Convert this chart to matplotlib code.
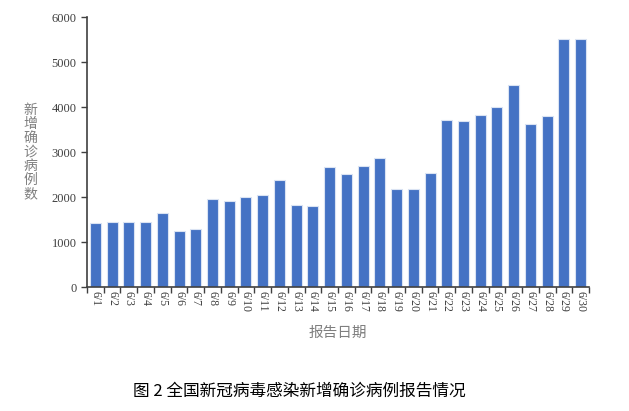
import matplotlib.pyplot as plt
import numpy as np

plt.rcParams['font.family'] = ['Liberation Serif', 'Noto Sans CJK SC', 'DejaVu Sans']

dates = ['6/%d' % d for d in range(1, 31)]
cases = [1420, 1440, 1450, 1440, 1650, 1240, 1280, 1950, 1920, 1990,
         2040, 2370, 1830, 1810, 2670, 2510, 2680, 2870, 2170, 2180,
         2530, 3710, 3700, 3820, 3990, 4490, 3620, 3800, 5510, 5510]
yticks = [0, 1000, 2000, 3000, 4000, 5000, 6000]

fig = plt.figure(figsize=(6.29, 4.11), dpi=100)
ax = fig.add_axes([0.1383, 0.3017, 0.7981, 0.6569])

x = np.arange(len(dates))
ax.bar(x, cases, width=0.66, color='#4472C4', edgecolor='#DAE3F3', linewidth=0.8)

ax.set_xlim(-0.5, len(dates) - 0.5)
ax.set_ylim(0, 6000)
ax.set_yticks(yticks)
ax.set_xticks(x)
ax.set_xticklabels(dates, rotation=-90, fontsize=8.5, color='#404040')
ax.set_xticks(np.arange(len(dates) + 1) - 0.5, minor=True)
ax.tick_params(axis='x', which='major', length=0, pad=3)
ax.tick_params(axis='x', which='minor', length=4, width=1, color='#404040')
ax.tick_params(axis='y', length=4, width=1, color='#404040', labelsize=9, labelcolor='#404040')

for s in ['top', 'right']:
    ax.spines[s].set_visible(False)
for s in ['left', 'bottom']:
    ax.spines[s].set_color('#404040')
    ax.spines[s].set_linewidth(1.2)

fig.text(30 / 629, 1 - 152 / 411, '\n'.join('新增确诊病例数'), ha='center', va='center',
         fontsize=10, color='#7F7F7F', family='Noto Sans CJK SC', linespacing=1.0)
fig.text(338 / 629, 1 - 333 / 411, '报告日期', ha='center', va='center',
         fontsize=10.5, color='#7F7F7F', family='Noto Sans CJK SC')
fig.text(299 / 629, 1 - 391 / 411, '图 2 全国新冠病毒感染新增确诊病例报告情况', ha='center', va='center',
         fontsize=12, color='black', family='Noto Sans CJK SC')

fig.savefig('out.png', dpi=100)
